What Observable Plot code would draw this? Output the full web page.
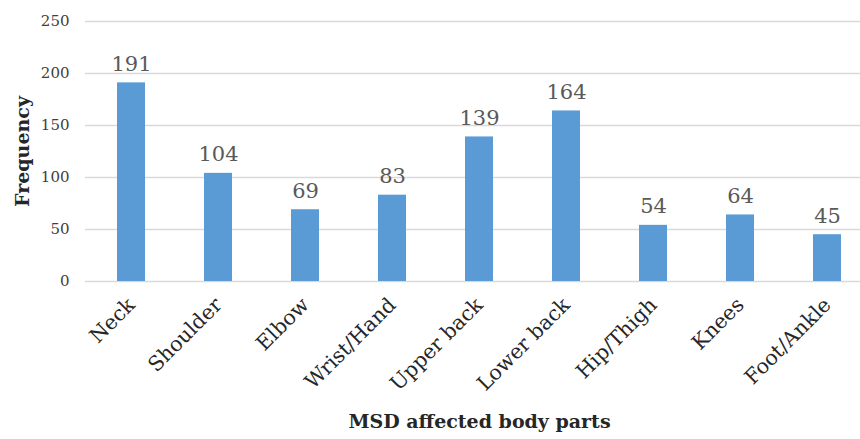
<!DOCTYPE html>
<html>
<head>
<meta charset="utf-8">
<script src="https://cdn.jsdelivr.net/npm/d3@7"></script>
<script src="https://cdn.jsdelivr.net/npm/@observablehq/plot@0.6"></script>
<style>
  html, body { margin: 0; padding: 0; background: #fff; }
  svg { display: block; }
</style>
</head>
<body>
<div id="chart"></div>
<script>
const categories = ["Neck", "Shoulder", "Elbow", "Wrist/Hand", "Upper back", "Lower back", "Hip/Thigh", "Knees", "Foot/Ankle"];
const frequencies = [191, 104, 69, 83, 139, 164, 54, 64, 45];
const yTicks = [0, 50, 100, 150, 200, 250];
const yTitle = "Frequency";
const xTitle = "MSD affected body parts";

const data = categories.map((c, i) => ({part: c, value: frequencies[i]}));
const font = "'DejaVu Serif', 'Liberation Serif', serif";

const chart = Plot.plot({
  width: 860,
  height: 439,
  marginLeft: 85,
  marginRight: 0,
  marginTop: 21,
  marginBottom: 158,
  style: {fontFamily: font, background: "#fff"},
  x: {domain: categories, range: [85, 873], paddingInner: 0.68, paddingOuter: 0.34, align: 0.5},
  y: {domain: [0, 250]},
  marks: [
    Plot.ruleY(yTicks, {stroke: "#d9d9d9", strokeWidth: 1.3}),
    Plot.barY(data, {x: "part", y: "value", fill: "#5b9bd5"}),
    Plot.text(data, {x: "part", y: "value", text: d => String(d.value), dy: -12, lineAnchor: "bottom", fill: "#595959", fontSize: 21}),
    Plot.axisY({ticks: yTicks, tickSize: 0, tickPadding: 16, label: null, fontSize: 15, color: "#404040"}),
    Plot.axisX({tickSize: 0, tickRotate: -45, tickPadding: 20, label: null, fontSize: 20.5, color: "#262626"}),
    Plot.text([yTitle], {frameAnchor: "left", rotate: -90, textAnchor: "middle", dx: -63, fontWeight: "bold", fontSize: 19, fill: "#262626"}),
    Plot.text([xTitle], {frameAnchor: "bottom", dx: 6.5, dy: 146, fontWeight: "bold", fontSize: 19, fill: "#262626"})
  ]
});
document.getElementById("chart").appendChild(chart);
</script>
</body>
</html>
